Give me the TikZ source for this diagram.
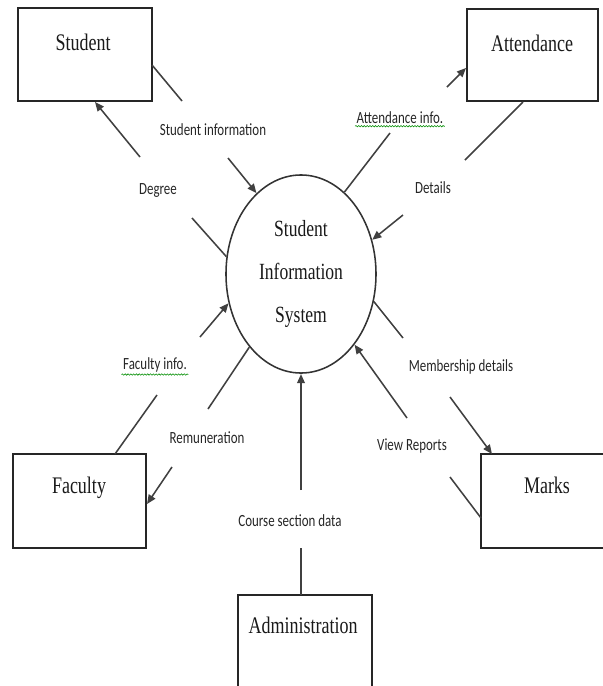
\documentclass[tikz,border=0pt]{standalone}
\usepackage{fontspec}
\setmainfont{Liberation Serif}
\newfontfamily\flowfont{Carlito}
\usetikzlibrary{arrows.meta,
                decorations.pathmorphing
                }

\tikzset{
    box/.style={draw=black!85, line width=1.3pt, inner sep=0pt,
                minimum width=3.35cm, minimum height=2.325cm},
    boxtext/.style={font=\fontsize{12.8}{15}\selectfont, yscale=1.32,
                inner sep=0pt, text=black!90},
    process/.style={draw=black!80, line width=1.1pt, circle, inner sep=0pt,
                minimum size=3.75cm, yscale=1.32, align=center,
                font=\fontsize{12.5}{23}\selectfont, text=black!90},
    flowtext/.style={font=\flowfont\fontsize{9.2}{11}\selectfont, yscale=1.32,
                inner sep=1pt, text=black!85},
    flow/.style={draw=black!75, line width=1.1pt},
    flowarrow/.style={flow, -{Triangle[length=6.5pt, width=5.5pt]}},
    spell/.style={draw=green!55!black, line width=0.4pt, decorate,
                decoration={snake, amplitude=0.5pt, segment length=2pt}}
}

\begin{document}
\begin{tikzpicture}[x=0.025cm, y=-0.025cm]
    \useasboundingbox (0,0) rectangle (603,686);
    \clip (0,0) rectangle (603,686);

    % external entities
    \node[box] (student) at (85,54.5) {};
    \node[box, minimum width=3.275cm, minimum height=2.3cm] (attendance) at (532.5,55) {};
    \node[box, minimum width=3.325cm, minimum height=2.35cm] (faculty) at (79.5,501) {};
    \node[box, minimum width=3.475cm, minimum height=2.35cm] (marks) at (550.5,501) {};
    \node[box, minimum height=2.625cm] (admin) at (305,647.5) {};

    \node[boxtext] (studentname) at (83,42) {Student};
    \node[boxtext] (attendancename) at (532,43) {Attendance};
    \node[boxtext] (facultyname) at (79,488) {Faculty};
    \node[boxtext] (marksname) at (547,485) {Marks};
    \node[boxtext] (adminname) at (303,625) {Administration};

    % process
    \node[process] (sis) at (301,274) {Student\\Information\\System};

    % flow labels
    \node[flowtext] (stuinfo) at (213,130) {Student information};
    \node[flowtext] (degree) at (158,190) {Degree};
    \node[flowtext] (attinfo) at (400,118) {Attendance info.};
    \node[flowtext] (details) at (433,188) {Details};
    \node[flowtext] (facinfo) at (155,365) {Faculty info.};
    \node[flowtext] (remun) at (207,438) {Remuneration};
    \node[flowtext] (member) at (461,367) {Membership details};
    \node[flowtext] (reports) at (412,446) {View Reports};
    \node[flowtext] (course) at (290,521) {Course section data};

    \draw[spell] (attinfo.south west) -- (attinfo.south east);
    \draw[spell] (facinfo.south west) -- (facinfo.south east);

    % ends of the flow lines
    \coordinate (stuinfoA) at (152,65);
    \coordinate (stuinfoB) at (182,101);
    \coordinate (stuinfoC) at (228,158);
    \coordinate (degreeA) at (140,157);
    \coordinate (degreeB) at (95,102);
    \coordinate (degreeC) at (192,218);
    \coordinate (attinfoA) at (390,133);
    \coordinate (attinfoB) at (447,87);
    \coordinate (attinfoC) at (466,68);
    \coordinate (detailsA) at (523,102);
    \coordinate (detailsB) at (465,160);
    \coordinate (detailsC) at (403,215);
    \coordinate (facinfoA) at (115,454);
    \coordinate (facinfoB) at (157,395);
    \coordinate (facinfoC) at (200,337);
    \coordinate (remunA) at (208,409);
    \coordinate (remunB) at (172,467);
    \coordinate (remunC) at (147,504);
    \coordinate (memberA) at (403,338);
    \coordinate (memberB) at (450,397);
    \coordinate (memberC) at (492,454);
    \coordinate (reportsA) at (481,518);
    \coordinate (reportsB) at (450,477);
    \coordinate (reportsC) at (407,418);
    \coordinate (courseA) at (301,595);
    \coordinate (courseB) at (301,548);
    \coordinate (courseC) at (301,490);

    % data flows
    \draw[flow] (stuinfoA) -- (stuinfoB);
    \draw[flowarrow] (stuinfoC) -- (sis.126);

    \draw[flow] (sis.170) -- (degreeC);
    \draw[flowarrow] (degreeA) -- (degreeB);

    \draw[flow] (sis.55) -- (attinfoA);
    \draw[flowarrow] (attinfoB) -- (attinfoC);

    \draw[flow] (detailsA) -- (detailsB);
    \draw[flowarrow] (detailsC) -- (sis.20);

    \draw[flow] (facinfoA) -- (facinfoB);
    \draw[flowarrow] (facinfoC) -- (sis.197);

    \draw[flow] (sis.227) -- (remunA);
    \draw[flowarrow] (remunB) -- (remunC);

    \draw[flow] (sis.344) -- (memberA);
    \draw[flowarrow] (memberB) -- (memberC);

    \draw[flow] (reportsA) -- (reportsB);
    \draw[flowarrow] (reportsC) -- (sis.315);

    \draw[flow] (courseA) -- (courseB);
    \draw[flowarrow] (courseC) -- (sis.270);
\end{tikzpicture}
\end{document}
